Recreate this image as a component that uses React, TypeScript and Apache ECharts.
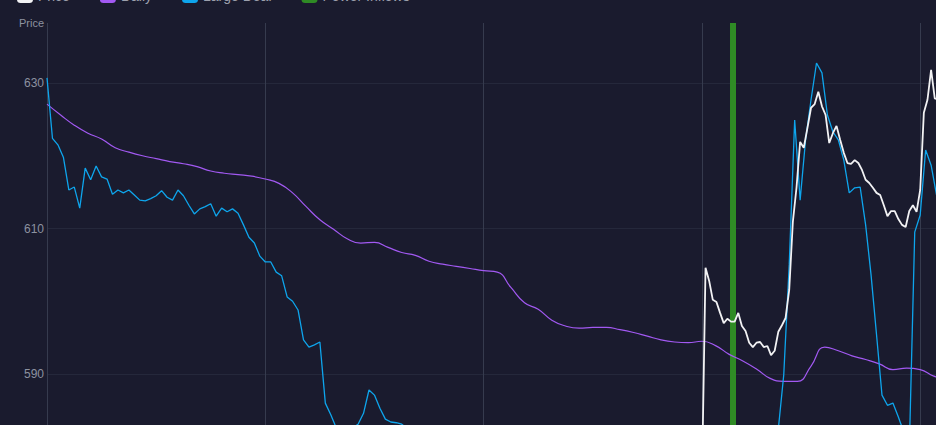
import { useEffect, useRef } from "react";
import * as echarts from "echarts";

const BG = "#1a1b2e";
const FONT = "Liberation Sans, Arial, sans-serif";

const legendNames = ["Price", "Daily", "Large Deal", "Power Inflows"];

// x is measured in trading days from the left edge of the plot
const xMin = 0;
const xMax = 4.0724;
const yMin = 570;
const yMax = 638.25;
const yInterval = 20;

// Daily (purple), one point every 1/16 day
const dailyStep = 1 / 16;
const dailyValues = [
  627.1, 625.6, 624.2, 623.1, 622.3, 621.1, 620.5, 620.0, 619.6, 619.2,
  618.9, 618.5, 617.9, 617.6, 617.4, 617.2, 616.8, 616.2, 614.9, 613.0,
  611.2, 609.9, 608.6, 608.0, 608.1, 607.4, 606.7, 606.3, 605.5, 605.1,
  604.8, 604.5, 604.2, 604.0, 601.9, 599.8, 598.9, 597.4, 596.6, 596.3,
  596.4, 596.4, 596.1, 595.7, 595.2, 594.7, 594.4, 594.3, 594.5, 593.9,
  592.7, 591.8, 590.7, 589.4, 589.0, 589.0, 591.1, 593.7, 593.2, 592.5,
  592.0, 591.4, 590.6, 590.8, 590.6, 589.7, 589.3,
];

// Large Deal (blue), one point every 1/40 day
const largeDealStep = 1 / 40;
const largeDealValues = [
  630.7, 622.4, 621.5, 619.8, 615.3, 615.7, 612.8, 618.3, 616.7, 618.6,
  617.1, 616.8, 614.7, 615.3, 614.9, 615.3, 614.6, 613.9, 613.8, 614.1,
  614.5, 615.2, 614.3, 613.9, 615.3, 614.5, 613.2, 612.0, 612.7, 613.0,
  613.4, 611.7, 612.8, 612.3, 612.7, 612.1, 610.5, 608.8, 608.0, 606.2,
  605.4, 605.4, 604.0, 603.5, 600.6, 600.0, 598.8, 594.7, 593.7, 594.0,
  594.4, 586.0, 584.4, 582.6, 582.0, 582.2, 582.6, 583.1, 584.6, 587.8,
  587.1, 585.3, 583.8, 583.4, 583.3, 583.1, 582.5,
  582.0, 581.4, 581.8, 580.9, 580.3, 580.7, 579.8, 579.2, 579.6, 578.9,
  578.4, 578.8, 578.1, 577.6, 578.0, 577.3, 576.9, 577.4, 576.6, 576.1,
  576.5, 575.8, 575.3, 575.7, 575.0, 574.6, 575.1, 574.4, 574.0, 574.5,
  573.8, 573.5, 574.0, 573.4, 573.1, 573.6, 573.0, 572.8, 573.3, 573.9,
  574.5, 574.1, 574.8, 575.4, 575.0, 575.9, 576.5, 576.1, 576.8, 577.4,
  577.0, 577.7, 578.3, 577.9, 578.6, 579.2, 578.8, 579.5, 580.1, 579.7,
  580.4, 581.0, 580.6, 581.3, 581.8, 581.4, 582.0, 582.4,
  589.9, 605.0, 624.9, 613.9, 622.2, 627.7, 632.75, 631.4, 625.6, 623.3,
  622.2, 619.4, 614.9, 615.6, 615.7, 610.5, 603.6, 595.4, 587.1, 585.7,
  586.0, 584.1, 582.0, 579.5, 609.5, 611.85, 620.8, 618.7, 614.6,
];

// Price (white), starts at day 3, one point every 1/60 day
const priceStart = 3;
const priceStep = 1 / 60;
const priceValues = [
  575.0, 604.6, 602.8, 600.2, 599.9, 598.4, 597.0, 597.6, 597.2, 597.2,
  598.4, 596.6, 595.9, 594.3, 593.7, 594.3, 594.4, 593.7, 593.85, 592.6,
  593.2, 595.8, 596.7, 597.7, 601.55, 610.9, 615.6, 621.9, 621.1, 623.8,
  626.6, 627.1, 628.8, 626.8, 625.6, 621.75, 623.1, 624.1, 622.2, 620.4,
  619.0, 618.9, 619.4, 619.0, 618.05, 616.7, 616.25, 615.6, 614.9, 614.6,
  613.2, 611.7, 612.4, 612.4, 611.3, 610.5, 610.2, 612.4, 613.2, 612.3,
  615.3, 625.9, 627.7, 631.8, 627.9, 627.7,
];

// Power Inflows (green bar)
const powerInflowTimes = [3.1425];
const powerInflowValues = [638.25];

export default function App() {
  const ref = useRef<HTMLDivElement>(null);

  useEffect(() => {
    document.documentElement.style.overflow = "hidden";
    document.body.style.overflow = "hidden";
    const chart = echarts.init(ref.current!, undefined, { renderer: "svg" });
    chart.setOption({
      animation: false,
      backgroundColor: BG,
      textStyle: { fontFamily: FONT },
      legend: {
        data: legendNames,
        top: 9,
        left: 17,
        padding: 0,
        itemGap: 30,
        itemWidth: 16,
        itemHeight: 14,
        icon: "roundRect",
        textStyle: { color: "#9ca0ad", fontSize: 14, fontFamily: FONT },
      },
      grid: { left: 47, right: 0, top: 43, bottom: 60.5 },
      xAxis: {
        type: "value",
        min: xMin,
        max: xMax,
        interval: 1,
        axisLine: { show: false },
        axisTick: { show: false },
        axisLabel: { show: false },
        splitLine: {
          show: true,
          showMaxLine: false,
          lineStyle: { color: "#363b4e", width: 1 },
        },
      },
      yAxis: {
        type: "value",
        min: yMin,
        max: yMax,
        interval: yInterval,
        name: "Price",
        nameLocation: "end",
        nameGap: 0,
        nameTextStyle: {
          color: "#8d92a0",
          fontSize: 11,
          fontFamily: FONT,
          align: "right",
          verticalAlign: "middle",
          padding: [0, 3, 0, 0],
        },
        axisLine: { show: false },
        axisTick: { show: false },
        axisLabel: {
          color: "#8d92a0",
          fontSize: 12,
          fontFamily: FONT,
          margin: 3,
          showMaxLabel: false,
          showMinLabel: false,
        },
        splitLine: {
          showMaxLine: false,
          lineStyle: { color: "#25283b", width: 1 },
        },
      },
      series: [
        {
          name: "Power Inflows",
          type: "bar",
          barWidth: 6,
          data: powerInflowTimes.map((t, k) => [t, powerInflowValues[k]]),
          itemStyle: { color: "#2f8b25" },
          z: 1,
        },
        {
          name: "Daily",
          type: "line",
          smooth: true,
          showSymbol: false,
          data: dailyValues.map((v, i) => [i * dailyStep, v]),
          lineStyle: { color: "#a259f2", width: 1.2 },
          itemStyle: { color: "#a259f2" },
          z: 2,
        },
        {
          name: "Large Deal",
          type: "line",
          showSymbol: false,
          data: largeDealValues.map((v, i) => [i * largeDealStep, v]),
          lineStyle: { color: "#0ea5ec", width: 1.3 },
          itemStyle: { color: "#0ea5ec" },
          z: 3,
        },
        {
          name: "Price",
          type: "line",
          showSymbol: false,
          data: priceValues.map((v, j) => [priceStart + j * priceStep, v]),
          lineStyle: { color: "#f2f2f4", width: 1.8 },
          itemStyle: { color: "#f2f2f4" },
          z: 4,
        },
      ],
    });
    return () => chart.dispose();
  }, []);

  return (
    <div
      style={{
        position: "fixed",
        left: 0,
        top: 0,
        width: 936,
        height: 425,
        overflow: "hidden",
        background: BG,
      }}
    >
      <div
        ref={ref}
        style={{ position: "absolute", left: 0, top: -20, width: 936, height: 600 }}
      />
    </div>
  );
}
